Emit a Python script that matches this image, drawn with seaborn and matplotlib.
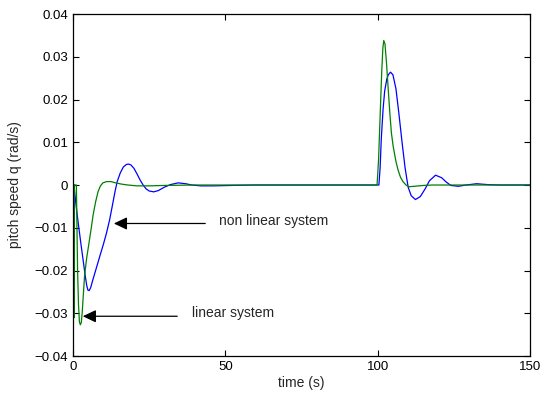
import numpy as np
import pandas as pd
import matplotlib
matplotlib.use('Agg')
import matplotlib.pyplot as plt
import seaborn as sns

# pitch speed (time in s, q in rad/s)
t_lin = [0, 0.35, 0.4, 0.45, 1.1, 1.3, 1.5, 1.8, 2.1, 2.4, 2.7, 3.0, 3.4, 3.8, 4.5,
         5.3, 6.0, 6.6, 7.4, 8.2, 9.0, 9.8, 11, 12.5, 14, 16, 18, 21, 25, 30, 40, 60,
         99.8, 100.3, 100.8, 101.3, 101.7, 102.0, 102.4, 102.9, 103.5, 104.0, 104.5,
         105.1, 106.0, 106.7, 107.5, 108.3, 109.3, 110.3, 112, 115, 118, 150]
q_lin = [0, 0, -0.031, 0, 0, -0.010, -0.020, -0.028, -0.032, -0.0327, -0.0322, -0.0300,
         -0.0255, -0.0211, -0.0170, -0.0133, -0.0100, -0.0070, -0.0040, -0.0016, -0.0002,
         0.0005, 0.0008, 0.0008, 0.0005, 0.0002, 0.0, -0.0002, -0.0002, -0.0001, 0.0, 0.0,
         0.0, 0.006, 0.016, 0.026, 0.032, 0.0338, 0.0330, 0.0285, 0.0220, 0.0168, 0.0122,
         0.0090, 0.0055, 0.0035, 0.0018, 0.0008, 0.0, -0.0004, -0.0003, -0.0001, 0.0, 0.0]

t_nl = [0, 0.3, 0.6, 1.0, 1.8, 2.6, 3.4, 4.0, 4.5, 4.9, 5.3, 5.8, 6.5, 7.5, 8.9, 10,
        11, 12, 13, 13.8, 14.5, 15.5, 16.5, 17.5, 18.2, 19, 20, 21, 22, 23, 24, 25,
        26.5, 28, 30, 32, 34.5, 37, 39, 42, 46, 52, 60,
        100.4, 100.8, 101.2, 101.8, 102.3, 103.0, 103.5, 104.2, 105.0, 106.0, 107.0,
        108.0, 109.0, 110.0, 111.0, 112.4, 114.0, 115.5, 117.0, 119.0, 121.0, 122.5,
        124.0, 126.5, 129.0, 132.5, 136.0, 140.0, 150]
q_nl = [0, 0, -0.0020, -0.0048, -0.0094, -0.0138, -0.0180, -0.0212, -0.0235, -0.0246,
        -0.0247, -0.0240, -0.0222, -0.0198, -0.0164, -0.0138, -0.0112, -0.0082, -0.0045,
        -0.0015, 0.0008, 0.0028, 0.0042, 0.0048, 0.0049, 0.0047, 0.0039, 0.0026, 0.0012,
        0.0, -0.0009, -0.0014, -0.0016, -0.0013, -0.0005, 0.0001, 0.0005, 0.0003, 0.0,
        -0.0002, -0.0002, -0.0001, 0.0,
        0.0, 0.004, 0.011, 0.018, 0.022, 0.0248, 0.0258, 0.0264, 0.0258, 0.0225, 0.0165,
        0.0100, 0.0040, -0.0005, -0.0025, -0.0034, -0.0027, -0.0010, 0.0010, 0.0023,
        0.0017, 0.0007, -0.0001, -0.0003, 0.0, 0.0003, 0.0001, 0.0, 0.0]

sns.set_style('ticks')
plt.rcParams['font.family'] = ['Liberation Sans', 'DejaVu Sans']

fig = plt.figure(figsize=(5.49, 3.96), dpi=100)
ax = fig.add_axes([0.133, 0.101, 0.8324, 0.8636])

sns.lineplot(x=t_nl, y=q_nl, color='#0000ff', lw=0.9, sort=False, estimator=None, ax=ax)
sns.lineplot(x=t_lin, y=q_lin, color='#008000', lw=0.9, sort=False, estimator=None, ax=ax)

ax.set_xlim(0, 150)
ax.set_ylim(-0.04, 0.04)
ax.set_xticks([0, 50, 100, 150])
ax.set_yticks(np.arange(-0.04, 0.0401, 0.01))
ax.set_yticklabels(['\u22120.04', '\u22120.03', '\u22120.02', '\u22120.01', '0',
                    '0.01', '0.02', '0.03', '0.04'])
ax.tick_params(direction='in', top=True, right=True, labelsize=9.5, length=4, width=0.8,
               colors='black')
for s in ax.spines.values():
    s.set_linewidth(0.9)
    s.set_color('black')
ax.set_xlabel('time (s)', fontsize=10, labelpad=2)
ax.set_ylabel('pitch speed q (rad/s)', fontsize=10, labelpad=9)

arrow = dict(arrowstyle='-|>,head_length=0.8,head_width=0.38', color='black', lw=0.9,
             shrinkA=0, shrinkB=0)
ax.annotate('', xy=(13.4, -0.009), xytext=(43.4, -0.009), arrowprops=arrow)
ax.text(47.8, -0.0085, 'non linear system', fontsize=10, va='center')
ax.annotate('', xy=(3.2, -0.0307), xytext=(34.2, -0.0307), arrowprops=arrow)
ax.text(39.1, -0.0300, 'linear system', fontsize=10, va='center')

fig.savefig('out.png', dpi=100)
